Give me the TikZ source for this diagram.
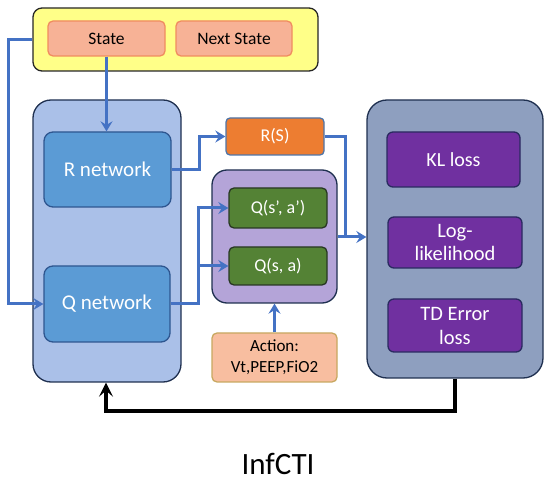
\documentclass[tikz,border=0pt]{standalone}
\usepackage{fontspec}
\setmainfont{Carlito}
\usetikzlibrary{arrows.meta}
\definecolor{yel}{RGB}{255,255,136}
\definecolor{salm}{RGB}{247,178,150}
\definecolor{salmb}{RGB}{240,140,96}
\definecolor{lblue}{RGB}{170,192,232}
\definecolor{navy}{RGB}{31,48,80}
\definecolor{mblue}{RGB}{91,155,213}
\definecolor{mblueb}{RGB}{46,86,144}
\definecolor{orng}{RGB}{237,125,49}
\definecolor{orngb}{RGB}{79,117,168}
\definecolor{lav}{RGB}{180,164,216}
\definecolor{grn}{RGB}{84,130,53}
\definecolor{grnb}{RGB}{40,55,35}
\definecolor{peach}{RGB}{248,190,160}
\definecolor{peachb}{RGB}{200,168,96}
\definecolor{gblue}{RGB}{142,159,191}
\definecolor{purp}{RGB}{112,48,160}
\definecolor{purpb}{RGB}{42,42,96}
\definecolor{conn}{RGB}{68,114,196}
\tikzset{
  bx/.style={rectangle, inner sep=0pt, line width=1.3pt, align=center},
  conline/.style={draw=conn, line width=3pt},
  conarrow/.style={conline, -{Stealth[length=10pt,width=12pt,inset=3.5pt]}},
  txt/.style n args={2}{font=\fontsize{#1}{#2}\selectfont},
}
\begin{document}
\begin{tikzpicture}[x=1pt,y=-1pt]
\useasboundingbox (0,0) rectangle (550,484);
% containers
\node[bx, draw=black!85, fill=yel, rounded corners=9pt, minimum width=285pt, minimum height=63pt] (yellow) at (175.5,39.5) {};
\node[bx, draw=navy, fill=lblue, rounded corners=18pt, minimum width=148pt, minimum height=282pt] (leftbox) at (107,241) {};
\node[bx, draw=navy, fill=lav, rounded corners=15pt, minimum width=125pt, minimum height=133pt] (purple) at (274.5,236.5) {};
\node[bx, draw=navy, fill=gblue, rounded corners=20pt, minimum width=176pt, minimum height=278pt] (rightbox) at (455,239) {};
% inner nodes
\node[bx, draw=salmb, fill=salm, rounded corners=5pt, minimum width=117pt, minimum height=35pt, txt={17.5}{21}] (State) at (106.5,38.5) {State};
\node[bx, draw=salmb, fill=salm, rounded corners=5pt, minimum width=116pt, minimum height=35pt, txt={17.5}{21}] (Next) at (234,38.5) {Next State};
\node[bx, draw=mblueb, fill=mblue, rounded corners=9pt, minimum width=127pt, minimum height=75pt, text=white, txt={21}{25}] (Rnet) at (107.5,169.5) {R network};
\node[bx, draw=mblueb, fill=mblue, rounded corners=9pt, minimum width=126pt, minimum height=76pt, text=white, txt={21}{25}] (Qnet) at (107,304) {Q network};
\node[bx, draw=orngb, fill=orng, rounded corners=4pt, minimum width=98pt, minimum height=37pt, text=white, txt={18}{21}] (RS) at (275,136.5) {R(S)};
\node[bx, draw=grnb, fill=grn, rounded corners=5pt, minimum width=98pt, minimum height=40pt, text=white, txt={18}{21}] (Qsa2) at (278,208) {Q(s’, a’)};
\node[bx, draw=grnb, fill=grn, rounded corners=5pt, minimum width=98pt, minimum height=38pt, text=white, txt={18}{21}] (Qsa) at (278,266) {Q(s, a)};
\node[bx, draw=peachb, fill=peach, rounded corners=5pt, minimum width=125pt, minimum height=49pt, txt={17}{21}] (Action) at (274.5,357.5) {Action:\\Vt,PEEP,FiO2};
\node[bx, draw=purpb, fill=purp, rounded corners=6pt, minimum width=133pt, minimum height=55pt, text=white, txt={20}{24}] (KL) at (453.5,159.5) {KL loss};
\node[bx, draw=purpb, fill=purp, rounded corners=6pt, minimum width=134pt, minimum height=51pt, text=white, txt={20.5}{23.5}] (Log) at (455,242.5) {Log-\\likelihood};
\node[bx, draw=purpb, fill=purp, rounded corners=6pt, minimum width=134pt, minimum height=53pt, text=white, txt={20.5}{24}] (TD) at (455,325.5) {TD Error\\loss};
\node[txt={31}{36}] (title) at (278,464) {InfCTI};
% coordinates
\coordinate (L) at (8,0);
\coordinate (X1) at (199,0);
\coordinate (X2) at (198,0);
\coordinate (X3) at (345,0);
\coordinate (Yr) at (0,237);
\coordinate (B) at (0,411);
\coordinate (Ltip) at (106,0);
% connectors
\draw[conarrow] (State.south) -- (State.south |- Rnet.north);
\draw[conarrow] (yellow.west) -- (yellow.west -| L) -- (Qnet.west -| L) -- (Qnet.west);
\draw[conarrow] (Rnet.east) -- (Rnet.east -| X1) -- (RS.west -| X1) -- (RS.west);
\draw[conarrow] (Qnet.east) -- (Qnet.east -| X2) -- (Qsa2.west -| X2) -- (Qsa2.west);
\draw[conarrow] (Qsa.west -| X2) -- (Qsa.west);
\draw[conline] (RS.east) -- (RS.east -| X3) -- (X3 |- Yr);
\draw[conarrow] (purple.east |- Yr) -- (rightbox.west |- Yr);
\draw[conarrow] (Action.north) -- (purple.south);
\draw[line width=4pt, -{Stealth[length=14pt,width=14pt,inset=6pt]}] (rightbox.south) -- (rightbox.south |- B) -- (Ltip |- B) -- (Ltip |- leftbox.south);
\end{tikzpicture}
\end{document}
